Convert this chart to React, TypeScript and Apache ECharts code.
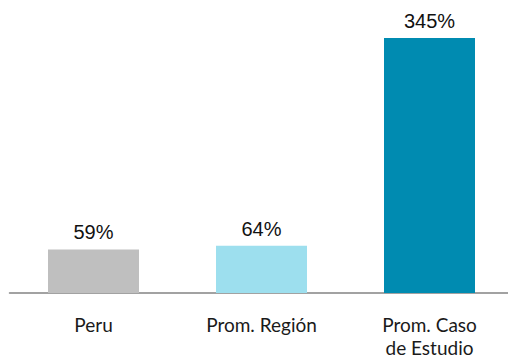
import React, { useEffect, useRef } from "react";
import * as echarts from "echarts";

const categories = ["Peru", "Prom. Región", "Prom. Caso\nde Estudio"];
const values = [59, 64, 345];
const barColors = ["#BFBFBF", "#9DDFEE", "#008BB1"];

export default function App() {
  const ref = useRef<HTMLDivElement>(null);

  useEffect(() => {
    if (!ref.current) return;
    const chart = echarts.init(ref.current, undefined, { renderer: "svg" });
    chart.setOption({
      animation: false,
      backgroundColor: "#ffffff",
      grid: {
        left: 9.5,
        right: -5.5,
        top: 34.3,
        bottom: 67,
        containLabel: false,
        outerBoundsMode: "none",
      },
      xAxis: {
        type: "category",
        data: categories,
        axisLine: { show: true, lineStyle: { color: "#848484", width: 1.5 } },
        axisTick: { show: false },
        axisLabel: {
          color: "#1a1a1a",
          fontFamily: "Lato, 'Noto Sans', sans-serif",
          fontSize: 19,
          lineHeight: 23,
          margin: 20,
          interval: 0,
        },
      },
      yAxis: {
        type: "value",
        min: 0,
        max: 350,
        show: false,
        splitLine: { show: false },
      },
      series: [
        {
          type: "bar",
          barWidth: 91,
          data: values.map((v, i) => ({ value: v, itemStyle: { color: barColors[i] } })),
          label: {
            show: true,
            position: "top",
            distance: 7,
            formatter: "{c}%",
            color: "#111111",
            fontFamily: "'Liberation Sans', Arial, sans-serif",
            fontSize: 20,
          },
        },
      ],
    });
    return () => chart.dispose();
  }, []);

  return (
    <div
      ref={ref}
      style={{ position: "fixed", left: 0, top: 0, width: 508, height: 360 }}
    />
  );
}
